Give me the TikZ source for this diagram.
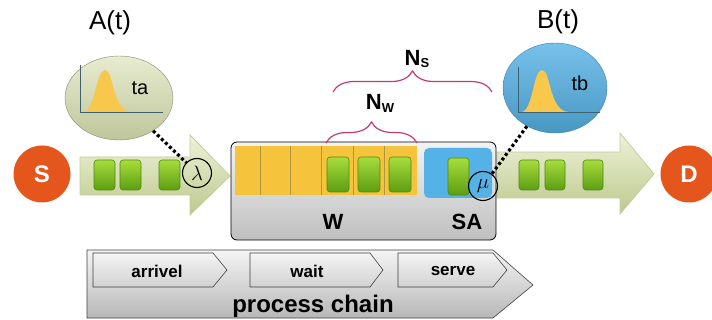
\documentclass[tikz,border=0pt]{standalone}
\usepackage{fontspec}
\setmainfont{Liberation Sans}
\usetikzlibrary{shapes.geometric, decorations.pathreplacing, positioning}

\definecolor{endpt}{HTML}{E5561D}
\definecolor{arrowhi}{HTML}{EEF2DA}
\definecolor{arrowlo}{HTML}{BCC98A}
\definecolor{arrowline}{HTML}{C3CD9C}
\definecolor{greenhi}{HTML}{A8DC3C}
\definecolor{greenlo}{HTML}{5C9E12}
\definecolor{greenline}{HTML}{4E8A10}
\definecolor{queue}{HTML}{F5C43C}
\definecolor{queueline}{HTML}{B0963C}
\definecolor{serv}{HTML}{55B2E6}
\definecolor{bracecol}{HTML}{C23A74}
\definecolor{bell}{HTML}{F7C84C}
\definecolor{axis}{HTML}{3E6170}
\definecolor{disthi}{HTML}{E8EBD0}
\definecolor{distlo}{HTML}{BFC69B}

\begin{document}
\begin{tikzpicture}[x = 1pt, y = -1pt,
    endpoint/.style = {circle, minimum size = 57, inner sep = 0, fill = endpt, text = white, font = \bfseries\fontsize{24}{24}\selectfont},
    flow/.style = {top color = arrowhi, bottom color = arrowlo, draw = arrowline, line width = 0.8pt},
    item/.style = {rounded corners = 3pt, top color = greenhi, bottom color = greenlo, draw = greenline, line width = 0.6pt},
    rate/.style = {circle, draw, line width = 1.1pt, minimum size = 29, inner sep = 0, font = \fontsize{22}{22}\selectfont},
    dist/.style = {ellipse, inner sep = 0, draw = #1!70!black, line width = 0.4pt},
    plotaxis/.style = {draw = axis, line width = 0.6pt},
    brc/.style = {draw = bracecol, line width = 1.2pt, decorate, decoration = {brace, amplitude = 21pt}},
    stage/.style = {draw = black!75, line width = 0.6pt, top color = white!96!black, bottom color = black!18},
    dots/.style = {line width = 3.2pt, dash pattern = on 3pt off 2.6pt},
    lbl/.style = {font = \bfseries\fontsize{17}{17}\selectfont}]

    \useasboundingbox (0, 0) rectangle (712, 320);

    \node [endpoint] (src) at (42, 174) {S};
    \node [endpoint] (dst) at (689, 174) {D};

    \draw [flow] (80, 157) -- (190, 157) -- (190, 135) -- (230, 176) -- (190, 215) -- (190, 195) -- (80, 195) -- cycle;
    \draw [flow] (497, 152) -- (620, 152) -- (620, 133) -- (654, 174) -- (620, 214) -- (620, 198) -- (497, 198) -- cycle;

    \foreach \x in {94, 120, 159}
        \draw [item] (\x, 160) rectangle ++(21, 30);
    \foreach \x in {519, 545, 583}
        \draw [item] (\x, 160) rectangle ++(20, 30);

    % system box
    \draw [rounded corners = 6pt, top color = white!95!black, bottom color = black!25, line width = 0.8pt] (231, 142) rectangle (496, 240);
    \fill [queue] (235, 146) rectangle (417, 195);
    \foreach \x in {260, 290, 321, 353, 384}
        \draw [queueline, line width = 0.8pt] (\x, 146) -- (\x, 195);
    \foreach \x in {327, 358, 389}
        \draw [item] (\x, 157) rectangle ++(22, 35);
    \fill [serv, rounded corners = 5pt] (424, 148) rectangle (492, 198);
    \draw [item] (448, 158) rectangle ++(21, 37);

    \node [font = \bfseries\fontsize{22}{22}\selectfont] (wlbl) at (333, 222) {W};
    \node [font = \bfseries\fontsize{22}{22}\selectfont] (salbl) at (467, 222) {SA};

    \node [rate] (lam) at (197, 173) {$\lambda$};
    \node [rate] (mu) at (483, 186) {$\mu$};

    % distributions
    \node [dist = distlo, minimum width = 108, minimum height = 84, top color = disthi, bottom color = distlo] (acirc) at (119, 98) {};
    \node [dist = serv, minimum width = 104, minimum height = 90, top color = serv!80!white, bottom color = serv!85!black] (bcirc) at (555, 88) {};

    \fill [bell] (83, 112) .. controls (95, 112) and (96, 70) .. (105, 70) .. controls (114, 70) and (112, 112) .. (132, 112) -- cycle;
    \draw [plotaxis] (80, 65) -- (80, 112) -- (163, 112);
    \fill [bell] (521, 112) .. controls (533, 112) and (533, 70) .. (542, 70) .. controls (551, 70) and (549, 112) .. (569, 112) -- cycle;
    \draw [plotaxis] (518, 67) -- (518, 112) -- (600, 112);

    \node [font = \fontsize{20}{20}\selectfont] (talbl) at (140, 88) {ta};
    \node [font = \fontsize{20}{20}\selectfont] (tblbl) at (580, 83) {tb};
    \node [font = \fontsize{26}{26}\selectfont] (alab) at (110, 23) {A(t)};
    \node [font = \fontsize{26}{26}\selectfont] (blab) at (558, 22) {B(t)};

    \draw [dots] (acirc) -- (lam);
    \draw [dots] (bcirc) -- (mu);

    % braces
    \draw [brc] (326, 143) -- (417, 143);
    \draw [brc] (333, 92) -- (492, 92);
    \node [font = \bfseries\fontsize{22}{22}\selectfont] (nw) at (380, 103) {N\raisebox{-0.25ex}{\fontsize{13}{13}\selectfont W}};
    \node [font = \bfseries\fontsize{22}{22}\selectfont] (ns) at (417, 59) {N\raisebox{-0.25ex}{\fontsize{13}{13}\selectfont S}};

    % process chain
    \draw [stage, bottom color = black!28] (87, 250) -- (493, 250) -- (533, 285) -- (493, 318) -- (87, 318) -- cycle;
    \draw [stage] (93, 253) -- (213, 253) -- (227, 270) -- (213, 287) -- (93, 287) -- cycle;
    \draw [stage] (250, 253) -- (370, 253) -- (383, 270) -- (370, 287) -- (250, 287) -- cycle;
    \draw [stage] (398, 253) -- (493, 253) -- (507, 270) -- (493, 287) -- (398, 287) -- cycle;
    \node [lbl] (arr) at (157, 271) {arrivel};
    \node [lbl] (wt) at (307, 271) {wait};
    \node [lbl] (srv) at (453, 271) {serve};
    \node [font = \bfseries\fontsize{24}{24}\selectfont] (chain) at (313, 306) {process chain};
\end{tikzpicture}
\end{document}
